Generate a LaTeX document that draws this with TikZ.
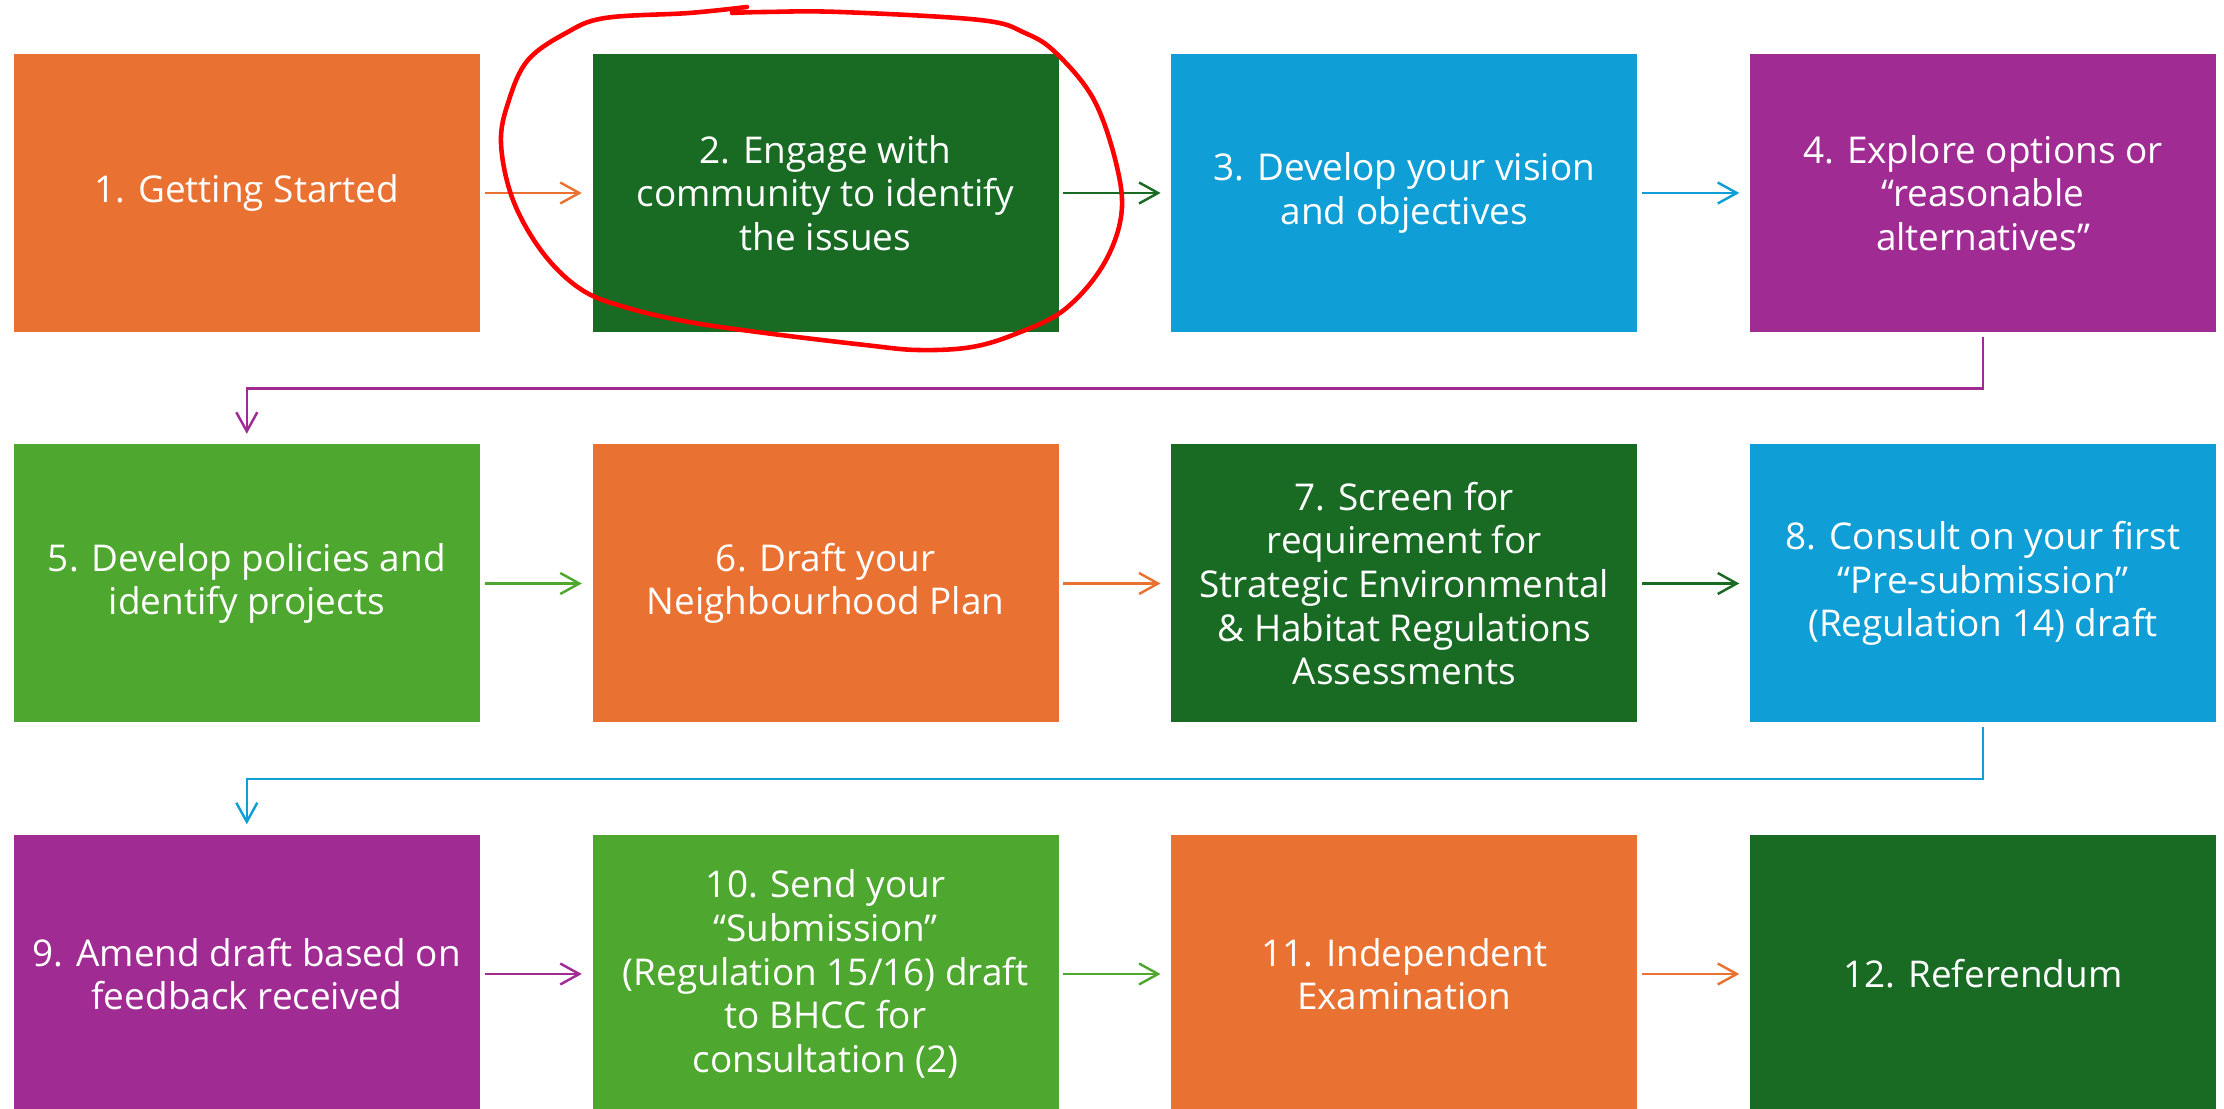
\documentclass[tikz,border=0pt]{standalone}
\usepackage{fontspec}
\setmainfont{Open Sans}
\usetikzlibrary{arrows.meta, positioning}

\definecolor{orangeStep}{HTML}{E97132}
\definecolor{darkStep}{HTML}{196B24}
\definecolor{blueStep}{HTML}{0F9ED5}
\definecolor{purpleStep}{HTML}{A02B93}
\definecolor{lightStep}{HTML}{4EA72E}

\begin{document}
\begin{tikzpicture}[
    stepbox/.style={rectangle, minimum width=4.66cm, minimum height=2.78cm,
      inner sep=0pt, text=white, align=center,
      font=\fontsize{10.5}{12.4}\selectfont},
    flow/.style={line width=0.7pt, -{Straight Barb[length=1.9mm,width=2.1mm]},
      shorten <=0.4mm, shorten >=1mm}
  ]
  \useasboundingbox (0,0) rectangle (22.24,-11.09);
  \clip (0,0) rectangle (22.24,-11.09);

  \begin{scope}[every node/.style={stepbox}]
    % first row
    \node[fill=orangeStep] (s1) at (2.468,-1.93) {1. Getting Started};
    \node[fill=darkStep] (s2) at (8.255,-1.93) {2. Engage with\\community to identify\\the issues};
    \node[fill=blueStep] (s3) at (14.043,-1.93) {3. Develop your vision\\and objectives};
    \node[fill=purpleStep] (s4) at (19.83,-1.93) {4. Explore options or\\“reasonable\\alternatives”};
    % second row
    \node[fill=lightStep] (s5) at (2.468,-5.835) {5. Develop policies and\\identify projects};
    \node[fill=orangeStep] (s6) at (8.255,-5.835) {6. Draft your\\Neighbourhood Plan};
    \node[fill=darkStep] (s7) at (14.043,-5.835) {7. Screen for\\requirement for\\Strategic Environmental\\\& Habitat Regulations\\Assessments};
    \node[fill=blueStep] (s8) at (19.83,-5.835) {8. Consult on your first\\“Pre-submission”\\(Regulation 14) draft};
    % third row, runs off the bottom
    \node[fill=purpleStep] (s9) at (2.468,-9.74) {9. Amend draft based on\\feedback received};
    \node[fill=lightStep] (s10) at (8.255,-9.74) {10. Send your\\“Submission”\\(Regulation 15/16) draft\\to BHCC for\\consultation (2)};
    \node[fill=orangeStep] (s11) at (14.043,-9.74) {11. Independent\\Examination};
    \node[fill=darkStep] (s12) at (19.83,-9.74) {12. Referendum};
  \end{scope}

  \begin{scope}[every path/.style={flow}]
    \draw[orangeStep] (s1) -- (s2);
    \draw[darkStep] (s2) -- (s3);
    \draw[blueStep] (s3) -- (s4);
    \draw[purpleStep] (s4.south) -- ++(0,-0.56) -| (s5.north);
    \draw[lightStep] (s5) -- (s6);
    \draw[orangeStep] (s6) -- (s7);
    \draw[darkStep] (s7) -- (s8);
    \draw[blueStep] (s8.south) -- ++(0,-0.56) -| (s9.north);
    \draw[purpleStep] (s9) -- (s10);
    \draw[lightStep] (s10) -- (s11);
    \draw[orangeStep] (s11) -- (s12);
  \end{scope}

  % red ring round step 2
  \draw[red, line width=1.3pt, line cap=round, line join=round]
    plot[smooth, tension=0.6] coordinates {
      (7.32,-0.13) (7.65,-0.12) (8.40,-0.12) (9.80,-0.20) (10.25,-0.33)
      (10.56,-0.53) (10.94,-1.00) (11.17,-1.67) (11.21,-2.17) (11.02,-2.67)
      (10.64,-3.10) (10.18,-3.33) (9.72,-3.47) (9.18,-3.50) (8.65,-3.45)
      (7.65,-3.33) (6.89,-3.22) (6.28,-3.08) (5.82,-2.90) (5.43,-2.53)
      (5.13,-2.00) (5.01,-1.43) (5.09,-1.00) (5.28,-0.60) (5.66,-0.33)
      (6.05,-0.18) (6.89,-0.13) (7.47,-0.07)};
\end{tikzpicture}
\end{document}
